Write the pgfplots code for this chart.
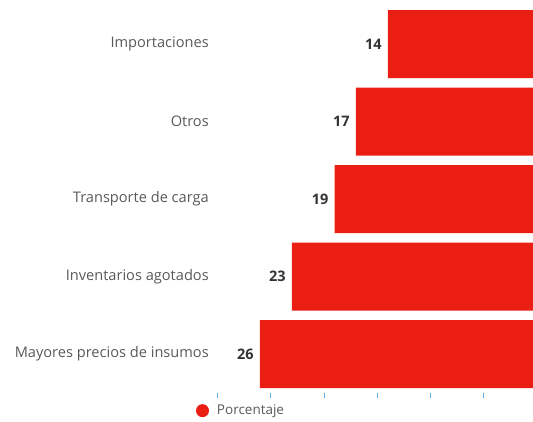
\documentclass[border=0pt]{standalone}
\usepackage{pgfplots}
\pgfplotsset{compat=1.18}
\usepackage{fontspec}
\setmainfont{Open Sans}
\definecolor{barred}{HTML}{EB1E14}
\definecolor{labgray}{HTML}{595959}
\definecolor{valgray}{HTML}{333333}
\definecolor{tickblue}{HTML}{5AA9E0}
\begin{document}
\begin{tikzpicture}[x=1pt,y=1pt]
\begin{axis}[
  at={(0,0)}, anchor=south west,
  scale only axis,
  width=315.7pt, height=387.5pt,
  xbar, bar width=68pt,
  x dir=reverse,
  xmin=0.4, xmax=30,
  ymin=-0.5, ymax=4.5,
  axis x line*=bottom, axis y line*=left,
  x axis line style={draw=none}, y axis line style={draw=none},
  xtick={5,10,...,30}, xticklabels={},
  tick align=outside, major tick length=5pt,
  x tick style={draw=tickblue, line width=0.9pt},
  y tick style={draw=none},
  ytick={0,1,2,3,4},
  yticklabels={Mayores precios de insumos, Inventarios agotados, Transporte de carga, Otros, Importaciones},
  y tick label style={font=\fontsize{14.6}{17}\selectfont, text=labgray, xshift=0pt},
  nodes near coords={\pgfmathprintnumber[assume math mode=true]{\pgfplotspointmeta}},
  every node near coord/.append style={anchor=east, font=\fontsize{14.5}{17}\selectfont\bfseries, text=valgray, inner sep=1pt, xshift=-5pt},
  legend style={at={(0,0)}, anchor=north west, xshift=-24.5pt, yshift=-8pt, draw=none, fill=none,
    font=\fontsize{13.5}{15}\selectfont, text=labgray},
  legend image code/.code={\fill[barred] (0,0) circle (6.5pt); \path (12.5pt,0);},
]
\addplot[fill=barred, draw=none] coordinates {(26,0) (23,1) (19,2) (17,3) (14,4)};
\addlegendentry{Porcentaje}
\end{axis}
\pgfresetboundingbox
\useasboundingbox (-217.3,-28.25) rectangle (315.7,392.75);
\end{tikzpicture}
\end{document}
